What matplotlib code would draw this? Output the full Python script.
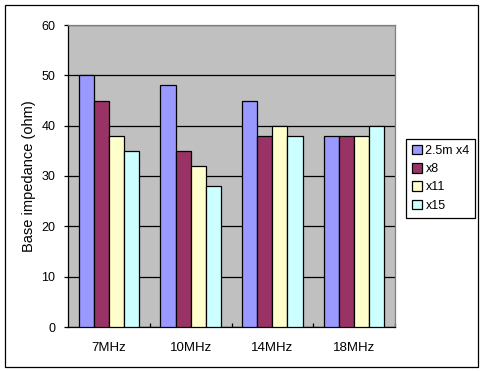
import matplotlib
matplotlib.use('Agg')
from matplotlib import pyplot as plt
from matplotlib.patches import Rectangle
import numpy as np

bands = ['7MHz', '10MHz', '14MHz', '18MHz']
series = ['2.5m x4', 'x8', 'x11', 'x15']
x4 = [50, 48, 45, 38]
x8 = [45, 35, 38, 38]
x11 = [38, 32, 40, 38]
x15 = [35, 28, 38, 40]
colores = ['#9999FF', '#993366', '#FFFFCC', '#CCFFFF']

plt.rcParams['font.family'] = ['Liberation Sans', 'DejaVu Sans']

fig = plt.figure(figsize=(4.83, 3.71), dpi=100)
ax = fig.add_axes([68/483, 1-327/371, (395-68)/483, (327-25)/371])
ax.set_facecolor('#C0C0C0')

w = 0.185
pos = np.arange(len(bands))
for i, vals in enumerate([x4, x8, x11, x15]):
    ax.bar(pos + (i - 1.5)*w, vals, w, color=colores[i], edgecolor='black',
           linewidth=0.9, label=series[i], zorder=3)

ax.set_xlim(-0.5, 3.5)
ax.set_ylim(0, 60)
ax.set_yticks(range(0, 61, 10))
ax.yaxis.grid(True, color='black', linewidth=0.9, zorder=1)
ax.set_axisbelow(True)
ax.set_xticks(pos)
ax.set_xticklabels(bands, fontsize=9.5)
ax.set_xticks([0.5, 1.5, 2.5, 3.5], minor=True)
ax.tick_params(axis='x', which='major', length=0, pad=11)
ax.tick_params(axis='x', which='minor', length=3, direction='in', width=0.9)
ax.tick_params(axis='y', labelsize=9, length=3, width=0.9, pad=6)
for s in ['top', 'right']:
    ax.spines[s].set_color('#808080')
    ax.spines[s].set_linewidth(0.9)
for s in ['left', 'bottom']:
    ax.spines[s].set_linewidth(0.9)
ax.set_ylabel('Base impedance (ohm)', fontsize=10.5, labelpad=4)

leg = ax.legend(loc='upper left', bbox_to_anchor=(406/483, 1-139/371),
                bbox_transform=fig.transFigure, fontsize=9, fancybox=False,
                edgecolor='black', framealpha=1, handlelength=0.8,
                handleheight=0.8, handletextpad=0.3, labelspacing=0.5,
                borderpad=0.45, borderaxespad=0)
leg.get_frame().set_linewidth(0.9)

fig.patches.append(Rectangle((5/483, 1-367/371), 473/483, 362/371,
                             transform=fig.transFigure, fill=False,
                             edgecolor='black', linewidth=0.9))

plt.savefig('out.png', dpi=100)
plt.close()
